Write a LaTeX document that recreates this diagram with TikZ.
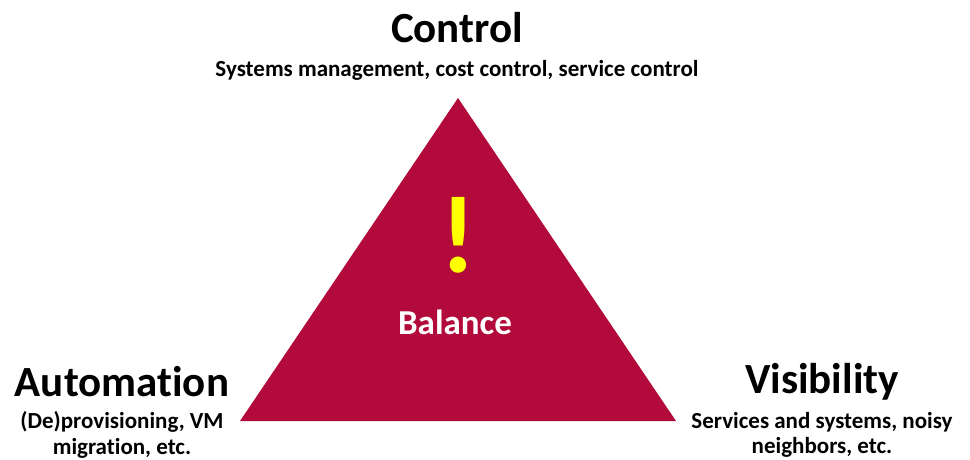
\documentclass[tikz,border=0pt]{standalone}
\usepackage{fontspec}
\setmainfont{Carlito}[Ligatures=NoCommon]
\usepackage{tikz}
\definecolor{crimson}{RGB}{178,10,58}
\definecolor{bangyellow}{RGB}{255,255,0}
\tikzset{
  corner/.style={font=\fontsize{43}{43}\selectfont\bfseries, inner sep=0pt},
  note/.style={font=\fontsize{23}{25.5}\selectfont\bfseries, inner sep=0pt, align=center},
}
\begin{document}
\begin{tikzpicture}[x=1pt,y=-1pt]
  \useasboundingbox (0,0) rectangle (970,459);
  \coordinate (top) at (458,98);
  \coordinate (left) at (240,421);
  \coordinate (right) at (676,421);
  \fill[crimson] (top) -- (right) -- (left) -- cycle;

  \node[corner] (control) at (457,28) {Control};
  \node[note] (controlnote) at (457,70) {Systems management, cost control, service control};

  \node[inner sep=0pt, text=bangyellow, font=\fontsize{110}{110}\selectfont\bfseries] (bang) at (458,235) {!};
  \node[inner sep=0pt, text=white, font=\fontsize{35}{35}\selectfont\bfseries] (balance) at (455,322) {Balance};

  \node[corner] (automation) at (122,382) {Automation};
  \node[note] (automationnote) at (122,435) {(De)provisioning, VM\\migration, etc.};

  \node[corner] (visibility) at (822,382) {Visibility};
  \node[note] (visibilitynote) at (822,435) {Services and systems, noisy\\neighbors, etc.};
\end{tikzpicture}
\end{document}
